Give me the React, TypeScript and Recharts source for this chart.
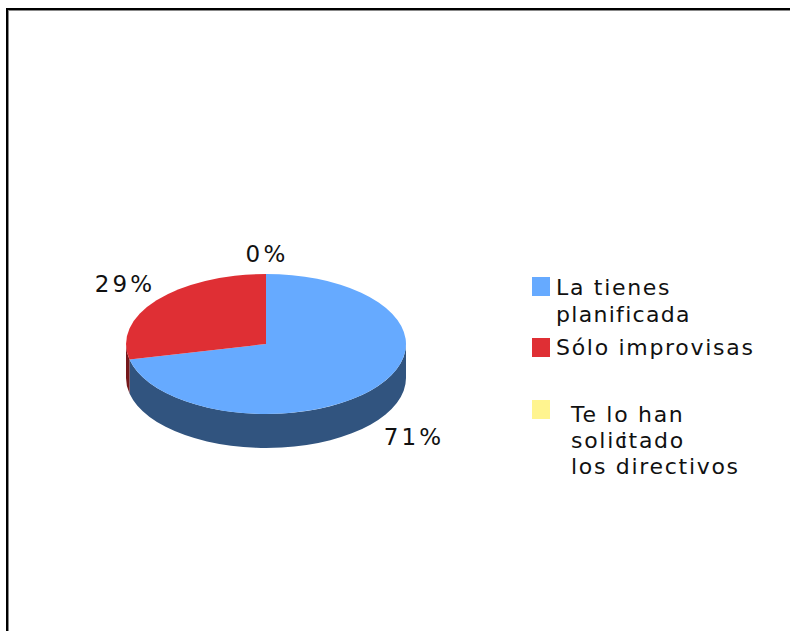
import { Legend, Pie, PieChart } from "recharts";

const categories = ["La tienes planificada", "Sólo improvisas", "Te lo han solicitado los directivos"];
const percents = [71.43, 28.57, 0];
const topColors = ["#66aaff", "#df2f34", "#fff48f"];
const wallColors = ["#31547f", "#75181b", "#80784a"];

const data = categories.map((name, i) => ({ name, value: percents[i], fill: topColors[i], wall: wallColors[i] }));

const FONT = "'DejaVu Sans', Verdana, sans-serif";
const TILT = 0.5;
const DEPTH = 34;

// label anchor offsets from the pie centre, same order as categories
const labelOffsets = [
  [148, 101],
  [-141, -52],
  [1, -82],
];

const point = (cx: number, cy: number, r: number, deg: number) => {
  const a = (deg * Math.PI) / 180;
  return [cx + r * Math.cos(a), cy - r * TILT * Math.sin(a)];
};

// recharts only does round pies, so the sector is squashed here
function TopSlice(props: any) {
  const { cx, cy, outerRadius: r, startAngle, endAngle, fill } = props;
  if (startAngle === endAngle) return null;
  const [x0, y0] = point(cx, cy, r, startAngle);
  const [x1, y1] = point(cx, cy, r, endAngle);
  const large = startAngle - endAngle > 180 ? 1 : 0;
  return <path d={`M${cx} ${cy}L${x0} ${y0}A${r} ${r * TILT} 0 ${large} 1 ${x1} ${y1}Z`} fill={fill} />;
}

function WallSlice(props: any) {
  const { cx, cy, outerRadius: r, startAngle, endAngle, payload } = props;
  const from = Math.min(startAngle, 0);
  const to = Math.max(endAngle, -180);
  if (from <= to) return null;
  const [x0, y0] = point(cx, cy, r, from);
  const [x1, y1] = point(cx, cy, r, to);
  const ry = r * TILT;
  return (
    <path
      d={`M${x0} ${y0}A${r} ${ry} 0 0 1 ${x1} ${y1}L${x1} ${y1 + DEPTH}A${r} ${ry} 0 0 0 ${x0} ${y0 + DEPTH}Z`}
      fill={payload?.wall ?? props.wall}
    />
  );
}

const renderLabel = (props: any) => {
  const { cx, cy, index } = props;
  return (
    <text
      x={cx + labelOffsets[index][0]}
      y={cy + labelOffsets[index][1]}
      textAnchor="middle"
      fontFamily={FONT}
      fontSize={23}
      letterSpacing={3.2}
      fill="#111"
    >
      {Math.round(percents[index])}%
    </text>
  );
};

const textLine: React.CSSProperties = {
  position: "absolute",
  whiteSpace: "nowrap",
  fontFamily: FONT,
  fontSize: 22,
  lineHeight: "26px",
  letterSpacing: 1.7,
  color: "#111",
};

function LegendBox() {
  const swatch = (top: number, color: string) => (
    <div style={{ position: "absolute", left: 532, top, width: 18, height: 19, background: color }} />
  );
  return (
    <div style={{ position: "absolute", left: 0, top: 0, width: 790, height: 631 }}>
      {swatch(277, topColors[0])}
      {swatch(338, topColors[1])}
      {swatch(400, topColors[2])}
      <div style={{ ...textLine, left: 556, top: 275 }}>La tienes</div>
      <div style={{ ...textLine, left: 556, top: 302, letterSpacing: 1.3 }}>planificada</div>
      <div style={{ ...textLine, left: 556, top: 335 }}>Sólo improvisas</div>
      <div style={{ ...textLine, left: 571, top: 402 }}>Te lo han</div>
      <div style={{ ...textLine, left: 571, top: 428 }}>
        solic<span style={{ marginLeft: -8 }}>itado</span>
      </div>
      <div style={{ ...textLine, left: 571, top: 454 }}>los directivos</div>
    </div>
  );
}

export default function App() {
  return (
    <div style={{ position: "absolute", left: 0, top: 0, width: 790, height: 631, background: "#fff", overflow: "hidden" }}>
      <div
        style={{
          position: "absolute",
          left: 6,
          top: 8,
          width: 800,
          height: 640,
          borderLeft: "2px solid #000",
          borderTop: "2px solid #000",
          boxShadow: "inset 1px 1px 0 #888",
        }}
      />
      <PieChart
        width={790}
        height={631}
        margin={{ top: 0, right: 0, bottom: 0, left: 0 }}
        style={{ position: "absolute", left: 0, top: 0 }}
      >
        <Pie
          data={data}
          dataKey="value"
          nameKey="name"
          cx={266}
          cy={344}
          outerRadius={140}
          startAngle={90}
          endAngle={-270}
          stroke="none"
          legendType="none"
          isAnimationActive={false}
          shape={WallSlice}
        />
        <Pie
          data={data}
          dataKey="value"
          nameKey="name"
          cx={266}
          cy={344}
          outerRadius={140}
          startAngle={90}
          endAngle={-270}
          stroke="none"
          label={renderLabel}
          labelLine={false}
          isAnimationActive={false}
          shape={TopSlice}
        />
        <Legend content={<LegendBox />} wrapperStyle={{ left: 0, top: 0, width: 790, height: 631 }} />
      </PieChart>
    </div>
  );
}
